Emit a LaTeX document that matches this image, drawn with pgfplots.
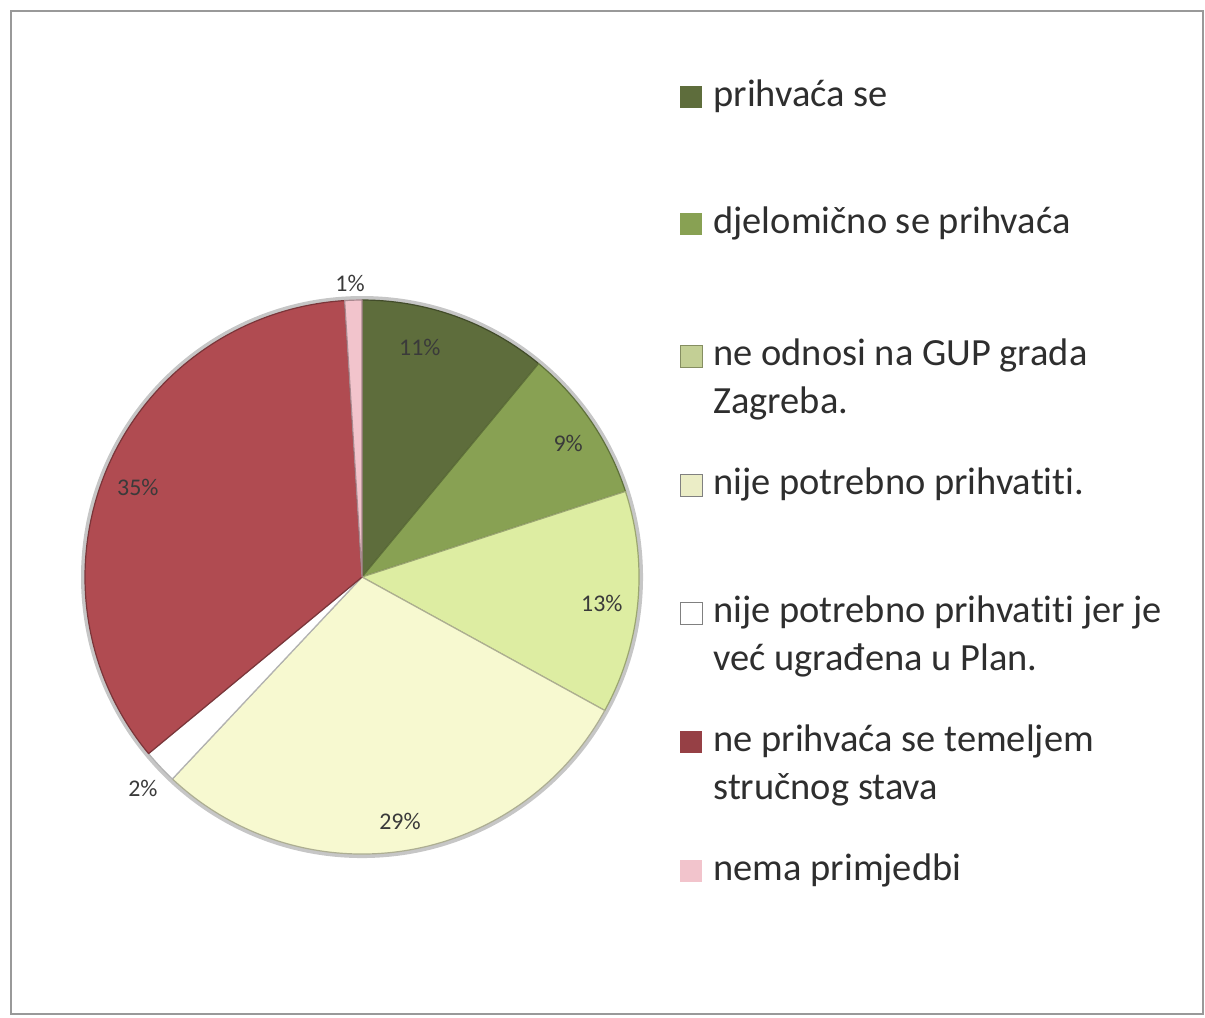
\documentclass[border=0pt]{standalone}
\usepackage{pgfplots}
\pgfplotsset{compat=1.18}
\usepackage{fontspec}
\setmainfont{Carlito}[Ligatures={NoCommon}]
\definecolor{c1}{HTML}{5E6D3C}
\definecolor{c2}{HTML}{88A153}
\definecolor{c3}{HTML}{DDEDA2}
\definecolor{c4}{HTML}{F7F9D0}
\definecolor{c5}{HTML}{FFFFFF}
\definecolor{c6}{HTML}{B04B51}
\definecolor{c7}{HTML}{F2C4CC}
\definecolor{txt}{HTML}{2E2E2E}
\definecolor{lbl}{HTML}{3A3A3A}
% slice: #1 cumulative start (%), #2 value (%), #3 colour
\newcommand{\slice}[3]{%
  \filldraw[fill=#3, draw=#3!70!black, line width=0.6bp, line join=round]
    (axis cs:0,0) -- ++({90-3.6*#1}:138.5bp)
    arc[start angle={90-3.6*#1}, end angle={90-3.6*(#1+#2)}, radius=138.5bp] -- cycle;}
\begin{document}
\begin{tikzpicture}[x=0.5bp, y=-0.5bp]
\useasboundingbox (0,0) rectangle (1205,1017);
\draw[gray!80, line width=1.2bp] (11,11) rectangle (1203,1014);
\begin{axis}[at={(181bp,-288.5bp)}, anchor=center, scale only axis,
  width=277bp, height=277bp, xmin=-1, xmax=1, ymin=-1, ymax=1,
  hide axis, clip=false]
  % values (percent): 11, 9, 13, 29, 2, 35, 1
  \fill[gray!45] (axis cs:0,0) circle[radius=140.5bp];
  \slice{0}{11}{c1}
  \slice{11}{9}{c2}
  \slice{20}{13}{c3}
  \slice{33}{29}{c4}
  \slice{62}{2}{c5}
  \slice{64}{35}{c6}
  \slice{99}{1}{c7}
  \begin{scope}[every node/.style={font=\fontsize{12}{14}\selectfont, text=lbl}]
  \node at (axis cs:0.209,0.830) {11\%};
  \node at (axis cs:0.744,0.484) {9\%};
  \node at (axis cs:0.866,-0.097) {13\%};
  \node at (axis cs:0.137,-0.884) {29\%};
  \node at (axis cs:-0.791,-0.762) {2\%};
  \node at (axis cs:-0.809,0.325) {35\%};
  \node at (axis cs:-0.043,1.061) {1\%};
  \end{scope}
\end{axis}
% legend
\begin{scope}[every node/.style={font=\fontsize{19.3}{23.5}\selectfont, text=txt, anchor=base west, inner sep=0pt}]
  \fill[c1] (680,86) rectangle (702,108);
  \node at (713,106) {prihvaća se};
  \fill[c2] (680,213) rectangle (702,235);
  \node at (713,233) {djelomično se prihvaća};
  \filldraw[fill=c3!85!black!90, draw=c3!60!black] (680,345) rectangle (702,367);
  \node at (713,365) {ne odnosi na GUP grada};
  \node at (713,413) {Zagreba.};
  \filldraw[fill=c4!95!black, draw=gray] (680,474) rectangle (702,496);
  \node at (713,494) {nije potrebno prihvatiti.};
  \filldraw[fill=white, draw=gray] (680,602) rectangle (702,624);
  \node at (713,622) {nije potrebno prihvatiti jer je};
  \node at (713,670) {već ugrađena u Plan.};
  \fill[c6!85!black] (680,731) rectangle (702,753);
  \node at (713,751) {ne prihvaća se temeljem};
  \node at (713,799) {stručnog stava};
  \fill[c7] (680,860) rectangle (702,882);
  \node at (713,880) {nema primjedbi};
\end{scope}
\end{tikzpicture}
\end{document}
